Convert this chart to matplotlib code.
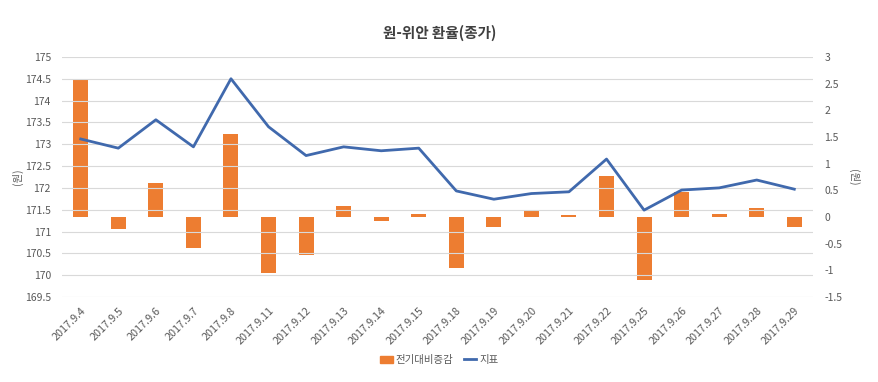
import numpy as np
import matplotlib
matplotlib.use("Agg")
from matplotlib import pyplot as plt
from matplotlib.patches import Patch
from matplotlib.lines import Line2D

plt.rcParams['font.family'] = ['Noto Sans CJK KR', 'DejaVu Sans']

# 날짜 / 지표(종가) / 전기대비증감
dates = ['2017.9.4', '2017.9.5', '2017.9.6', '2017.9.7', '2017.9.8',
         '2017.9.11', '2017.9.12', '2017.9.13', '2017.9.14', '2017.9.15',
         '2017.9.18', '2017.9.19', '2017.9.20', '2017.9.21', '2017.9.22',
         '2017.9.25', '2017.9.26', '2017.9.27', '2017.9.28', '2017.9.29']
rate = [173.12, 172.91, 173.56, 172.94, 174.50,
        173.40, 172.74, 172.94, 172.85, 172.91,
        171.93, 171.74, 171.87, 171.91, 172.66,
        171.49, 171.95, 172.00, 172.18, 171.97]
change = [2.59, -0.22, 0.64, -0.58, 1.56,
          -1.05, -0.71, 0.21, -0.08, 0.06,
          -0.96, -0.18, 0.13, 0.03, 0.77,
          -1.18, 0.47, 0.06, 0.17, -0.18]

left_ticks = [169.5, 170, 170.5, 171, 171.5, 172, 172.5, 173, 173.5, 174, 174.5, 175]
right_ticks = [-1.5, -1, -0.5, 0, 0.5, 1, 1.5, 2, 2.5, 3]

orange = '#ed7d31'
blue = '#4069ad'
grey = '#595959'

fig = plt.figure(figsize=(8.79, 3.82), dpi=100)
ax = fig.add_axes([0.0705, 0.2225, 0.8545, 0.6285])
ax2 = ax.twinx()

x = np.arange(len(dates))

# 막대는 오른쪽 축, 선은 왼쪽 축
ax2.bar(x, change, width=0.4, color=orange, zorder=2)
ax.plot(x, rate, color=blue, linewidth=2, zorder=3)
ax.set_zorder(ax2.get_zorder() + 1)
ax.patch.set_visible(False)

ax.set_ylim(169.5, 175)
ax.set_yticks(left_ticks)
ax.set_yticklabels([f'{t:g}' for t in left_ticks])
ax2.set_ylim(-1.5, 3)
ax2.set_yticks(right_ticks)
ax2.set_yticklabels([f'{t:g}' for t in right_ticks])
ax.set_xlim(-0.5, len(dates) - 0.5)

ax.yaxis.grid(True, color='#d9d9d9', linewidth=0.8)
ax.set_axisbelow(True)

for a in (ax, ax2):
    for s in a.spines.values():
        s.set_visible(False)
    a.tick_params(axis='both', length=0, labelsize=7.5, colors=grey)

ax.set_xticks(x)
ax.set_xticklabels(dates, rotation=45, ha='right', rotation_mode='anchor', fontsize=7.8, color=grey)
ax.tick_params(axis='x', pad=6)
ax.tick_params(axis='y', pad=8)
ax2.tick_params(axis='y', pad=8)

ax.set_ylabel('(원)', fontsize=7.5, color=grey, labelpad=1)
ax2.set_ylabel('(원)', fontsize=7.5, color=grey, labelpad=4, rotation=270, va='bottom')

fig.text(0.5, 0.915, '원-위안 환율(종가)', ha='center', va='center',
         fontsize=10.5, fontweight='bold', color='#404040')

handles = [Patch(color=orange), Line2D([0], [0], color=blue, linewidth=2)]
fig.legend(handles, ['전기대비증감', '지표'], loc='center', bbox_to_anchor=(0.5, 0.058),
           ncol=2, frameon=False, fontsize=7.5, handlelength=1.2, handletextpad=0.3,
           columnspacing=1.0, labelcolor=grey)

fig.savefig('out.png', dpi=100)
